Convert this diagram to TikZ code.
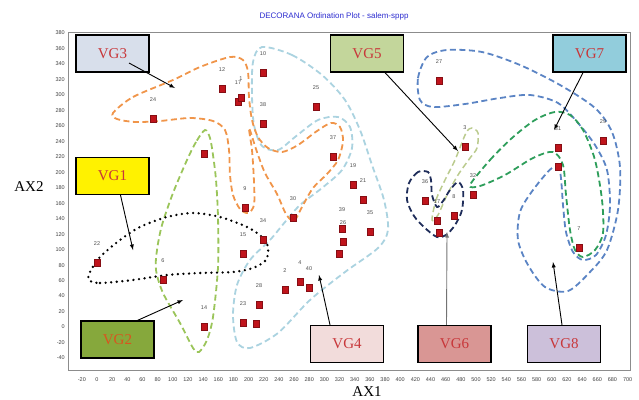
\documentclass[tikz,border=0pt]{standalone}
\usepackage{fontspec}
\setmainfont{Liberation Serif}
\setsansfont{Liberation Sans}
\definecolor{vgred}{HTML}{C8373A}
\definecolor{vgorange}{HTML}{D9541E}
\definecolor{ptred}{HTML}{C0141C}
\definecolor{titleblue}{HTML}{2B2BCF}
\definecolor{cOrange}{HTML}{F0954A}
\definecolor{cLightblue}{HTML}{ABD3E0}
\definecolor{cLightgreen}{HTML}{9BC55A}
\definecolor{cOlive}{HTML}{BBCB8E}
\definecolor{cNavy}{HTML}{1F2D5A}
\definecolor{cGreen}{HTML}{2E9E5B}
\definecolor{cBlue}{HTML}{5B84C4}
\definecolor{fillVGthree}{HTML}{D8DFEB}
\definecolor{fillVGtwo}{HTML}{86A83C}
\definecolor{fillVGfour}{HTML}{F2DCDB}
\definecolor{fillVGfive}{HTML}{C3D69B}
\definecolor{fillVGsix}{HTML}{D99694}
\definecolor{fillVGseven}{HTML}{92CDDC}
\definecolor{fillVGeight}{HTML}{CCC0DA}
\begin{document}
\begin{tikzpicture}[x=1pt,y=-1pt,>=latex,
    vgbox/.style={draw=black,line width=1.2pt,minimum width=73pt,minimum height=37pt,
      inner sep=0pt,font=\fontsize{15}{15}\selectfont,text=vgred},
    pt/.style={fill=ptred,draw=ptred!70!black,line width=0.3pt,minimum width=6pt,
      minimum height=7pt,inner sep=0pt},
    ptlbl/.style={font=\sffamily\fontsize{5.5}{5.5}\selectfont,text=black!70,inner sep=0pt},
    ticklbl/.style={font=\sffamily\fontsize{5.5}{5.5}\selectfont,text=black!75,inner sep=0pt},
    contour/.style={line width=1.8pt,dash pattern=on 6pt off 3.5pt},
    pointer/.style={->,line width=0.9pt}]
  \useasboundingbox (0,0) rectangle (639,399);
  \clip (0,0) rectangle (639,399);

  % title and frame
  \node[font=\sffamily\fontsize{8}{8}\selectfont,text=titleblue] (title) at (334,16)
    {DECORANA Ordination Plot - salem-sppp};
  \draw[black!45,line width=0.9pt] (68,32) rectangle (630,370);
  \foreach \v in {-40,-20,...,380}
    \node[ticklbl,anchor=east] (yt\v) at (65,{327-0.7735*\v}) {\v};
  \foreach \v in {-20,0,...,700}
    \node[ticklbl] (xt\v) at ({97+0.758*\v},380) {\v};
  \node[font=\fontsize{15}{15}\selectfont] (ax2) at (29,187) {AX2};
  \node[font=\fontsize{15}{15}\selectfont] (ax1) at (367,392) {AX1};

  % group outlines
  \draw[contour,cLightblue] plot[smooth cycle] coordinates {(262,47) (292,55) (322,75)
    (345,100) (360,130) (372,165) (384,200) (388,230) (378,248) (345,272) (310,300)
    (278,333) (250,348) (237,342) (233,315) (237,285) (250,260) (270,240) (285,222)
    (300,205) (322,188) (342,170) (352,148) (350,127) (338,117) (318,120) (295,137)
    (278,150) (262,146) (254,125) (252,95) (253,62)};
  \draw[contour,cOrange] plot[smooth cycle] coordinates {(113,113) (133,97) (173,80)
    (200,67) (230,57) (243,60) (248,72) (249,97) (252,120) (258,137) (268,148)
    (282,152) (298,145) (317,131) (331,123) (340,127) (343,141) (338,160) (327,174)
    (313,188) (302,207) (294,221) (286,214) (277,194) (265,173) (257,152) (249,128)
    (252,150) (254,182) (254,205) (248,213) (240,209) (233,195) (230,175) (229,150)
    (225,130) (213,121) (190,118) (160,121) (135,122) (117,119)};
  \draw[contour,cLightgreen] plot[smooth cycle] coordinates {(205,130) (196,142)
    (187,160) (173,193) (162,225) (157,250) (156,270) (163,293) (180,323) (193,348)
    (199,352) (207,340) (213,317) (218,267) (218,217) (216,180) (213,155) (210,138)};
  \draw[line width=2.6pt,dash pattern=on 0pt off 5.6pt,line cap=round] plot[smooth cycle]
    coordinates {(89,280) (100,283) (133,280) (167,275) (200,273) (233,272) (253,268)
    (266,260) (268,247) (262,237) (247,227) (220,217) (193,213) (167,217) (140,227)
    (120,240) (100,257) (90,272)};
  \draw[contour,cBlue] plot[smooth cycle] coordinates {(420,100) (418,78) (427,57)
    (447,50) (482,52) (520,65) (560,85) (595,108) (612,132) (620,167) (618,210)
    (607,250) (590,272) (568,291) (545,287) (528,265) (518,240) (520,212) (533,190)
    (552,168) (560,172) (563,205) (566,232) (573,252) (583,260) (596,255) (606,235)
    (610,205) (607,170) (595,145) (578,123) (558,103) (530,95) (500,98) (465,104)
    (433,107)};
  \draw[contour,cGreen] plot[smooth cycle] coordinates {(470,185) (490,160) (512,138)
    (535,120) (555,112) (570,115) (583,130) (595,160) (602,200) (603,233) (595,250)
    (583,257) (575,250) (570,230) (566,195) (563,165) (553,152) (533,158) (505,175)
    (480,186)};
  \draw[contour,cOlive,line width=1.5pt] plot[smooth cycle] coordinates {(432,220)
    (436,200) (445,180) (455,160) (466,133) (472,128) (478,133) (477,148) (470,158)
    (458,175) (447,195) (438,215)};
  \draw[contour,cNavy] plot[smooth cycle] coordinates {(428,172) (418,172) (409,183)
    (407,200) (414,216) (425,228) (437,237) (446,235) (455,225) (462,210) (463,190)
    (458,182) (450,190) (443,201) (437,207) (432,195) (431,180)};

  % sample points
  \foreach \px/\py/\t [count=\i] in {153/119/24, 222/89/12, 238/102/17, 241/98/1,
      263/73/10, 263/124/38, 316/107/25, 333/157/37, 245/208/9, 293/218/30,
      263/240/34, 243/254/15, 97/263/22, 163/280/6, 204/327/14, 243/323/23,
      259/305/28, 285/290/2, 300/282/4, 309/288/40, 353/185/19, 363/200/21,
      342/229/39, 343/242/26, 370/232/35, 439/81/27, 465/147/3, 473/195/32,
      425/201/36, 437/221/17, 454/216/8, 558/148/31, 603/141/29, 579/248/7} {
    \node[pt] (p\i) at (\px,\py) {};
    \node[ptlbl] (n\i) at (\px,\py-19) {\t};
  }
  \foreach \px/\py [count=\i] in {204/154, 256/324, 339/254, 439/233, 558/167}
    \node[pt] (q\i) at (\px,\py) {};

  % group labels
  \node[vgbox,fill=fillVGthree] (vg3) at (112.5,53.5) {VG3};
  \node[vgbox,fill=yellow] (vg1) at (112.5,176) {VG1};
  \node[vgbox,fill=fillVGtwo,text=vgorange] (vg2) at (117.5,339.5) {VG2};
  \node[vgbox,fill=fillVGfour] (vg4) at (347,344) {VG4};
  \node[vgbox,fill=fillVGsix] (vg6) at (454.5,344) {VG6};
  \node[vgbox,fill=fillVGeight] (vg8) at (564,344) {VG8};
  \node[vgbox,fill=fillVGfive] (vg5) at (367,53.5) {VG5};
  \node[vgbox,fill=fillVGseven] (vg7) at (589.5,53.5) {VG7};

  \coordinate (t3) at (175,88);
  \coordinate (t1) at (133,250);
  \coordinate (t2) at (183,300);
  \coordinate (t4) at (319,275);
  \coordinate (t6) at (447,232);
  \coordinate (t8) at (553,262);
  \coordinate (t5) at (458,151);
  \coordinate (t7) at (554,130);
  \draw[pointer] ([xshift=16.5pt,yshift=-9.5pt]vg3.center) -- (t3);
  \draw[pointer] ([xshift=8pt]vg1.south) -- (t1);
  \draw[pointer] ([xshift=20pt]vg2.north) -- (t2);
  \draw[pointer] ([xshift=-17pt]vg4.north) -- (t4);
  \draw[pointer,black!55] ([xshift=-8pt]vg6.north) -- (t6);
  \draw[pointer] ([xshift=-2pt]vg8.north) -- (t8);
  \draw[pointer] ([xshift=18pt]vg5.south) -- (t5);
  \draw[pointer] ([xshift=-6.5pt]vg7.south) -- (t7);
\end{tikzpicture}
\end{document}
